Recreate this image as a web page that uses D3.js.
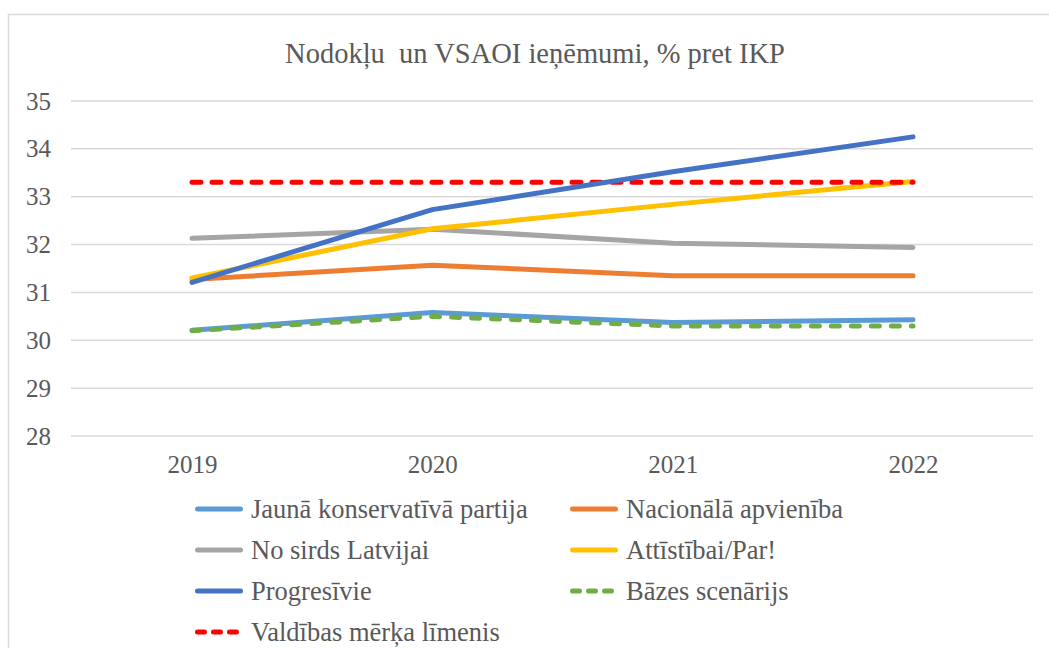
<!DOCTYPE html>
<html><head><meta charset="utf-8">
<script src="https://cdn.jsdelivr.net/npm/d3@7"></script>
<style>body{margin:0;background:#fff}svg{display:block}</style>
</head><body>
<script>
const years = ["2019","2020","2021","2022"];
const jkp = [30.21, 30.58, 30.37, 30.43];
const na = [31.27, 31.57, 31.35, 31.35];
const nsl = [32.13, 32.32, 32.03, 31.94];
const ap = [31.30, 32.33, 32.84, 33.32];
const prog = [31.21, 32.73, 33.52, 34.25];
const baze = [30.20, 30.50, 30.30, 30.30];
const merkis = [33.30, 33.30, 33.30, 33.30];
const yTicks = [28, 29, 30, 31, 32, 33, 34, 35];
const title = "Nodokļu  un VSAOI ieņēmumi, % pret IKP";

const series = [
  {name:"Jaunā konservatīvā partija", values:jkp, color:"#5B9BD5", dash:null},
  {name:"Nacionālā apvienība", values:na, color:"#ED7D31", dash:null},
  {name:"No sirds Latvijai", values:nsl, color:"#A5A5A5", dash:null},
  {name:"Attīstībai/Par!", values:ap, color:"#FFC000", dash:null},
  {name:"Progresīvie", values:prog, color:"#4472C4", dash:null},
  {name:"Bāzes scenārijs", values:baze, color:"#70AD47", dash:"8,12"},
  {name:"Valdības mērķa līmenis", values:merkis, color:"#FF0000", dash:"9,11"}
];
const drawOrder = [0,1,2,3,5,6,4];

const W = 1049, H = 648;
const svg = d3.select("body").append("svg").attr("width", W).attr("height", H);
const FONT = "Liberation Serif";
const TXT = "#595959";

svg.append("rect").attr("x", 8.5).attr("y", 14.5).attr("width", W + 10).attr("height", H + 10)
  .attr("fill", "#fff").attr("stroke", "#d9d9d9").attr("stroke-width", 1.5);

function txt(sel, size) {
  return sel.style("font-family", FONT).style("font-size", size + "px").attr("fill", TXT);
}

txt(svg.append("text").attr("x", 535).attr("y", 63).attr("text-anchor", "middle"), 28.5)
  .attr("xml:space", "preserve").style("white-space", "pre").text(title);

const x = d3.scalePoint().domain(years).range([192, 913]);
const y = d3.scaleLinear().domain([28, 35]).range([436, 101]);

svg.append("g").selectAll("line").data(yTicks).join("line")
  .attr("x1", 71).attr("x2", 1033)
  .attr("y1", d => y(d)).attr("y2", d => y(d))
  .attr("stroke", "#d9d9d9").attr("stroke-width", 1.5);

const yAxis = svg.append("g").attr("transform", "translate(51,0)")
  .call(d3.axisLeft(y).tickValues(yTicks).tickFormat(d3.format("d")).tickSize(0).tickPadding(0));
yAxis.select(".domain").remove();
txt(yAxis.selectAll("text"), 25);

const xAxis = svg.append("g").attr("transform", "translate(0,449)")
  .call(d3.axisBottom(x).tickSize(0).tickPadding(6));
xAxis.select(".domain").remove();
txt(xAxis.selectAll("text"), 25).attr("dy", "0.71em");

const line = d3.line().x((d, i) => x(years[i])).y(d => y(d));
drawOrder.forEach(i => {
  const s = series[i];
  svg.append("path").datum(s.values).attr("d", line)
    .attr("fill", "none").attr("stroke", s.color).attr("stroke-width", 5)
    .attr("stroke-linecap", "round").attr("stroke-linejoin", "round")
    .attr("stroke-dasharray", s.dash);
});

const legX = [195, 570], legY0 = 509, legDy = 41;
series.forEach((s, i) => {
  const cx = legX[i % 2], cy = legY0 + Math.floor(i / 2) * legDy;
  const g = svg.append("g");
  g.append("line").attr("x1", cx + 2.5).attr("x2", cx + 45.5).attr("y1", cy).attr("y2", cy)
    .attr("stroke", s.color).attr("stroke-width", 5).attr("stroke-linecap", "round")
    .attr("stroke-dasharray", s.dash ? "7,9" : null);
  txt(g.append("text").attr("x", cx + 56).attr("y", cy).attr("dy", "0.35em"), 26.5).text(s.name);
});
</script>
</body></html>
